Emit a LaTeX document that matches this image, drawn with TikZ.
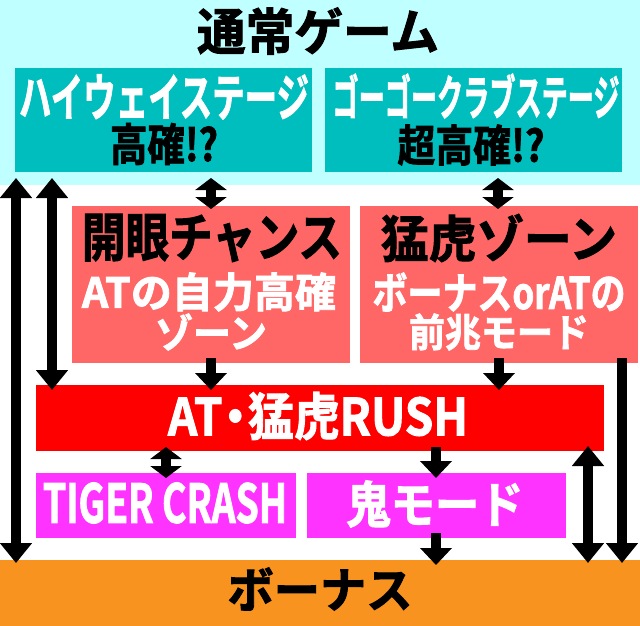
\documentclass[tikz,border=0pt]{standalone}
\usepackage{fontspec}
\usepackage{graphicx}
\newfontfamily\jp{Noto Sans CJK JP Bold}[FakeBold=2]
\usetikzlibrary{arrows.meta}
\definecolor{cyanbg}{RGB}{192,255,255}
\definecolor{tealbox}{RGB}{0,190,190}
\definecolor{pinkbox}{RGB}{255,102,102}
\definecolor{redbar}{RGB}{255,0,0}
\definecolor{magbox}{RGB}{255,51,255}
\definecolor{orangebg}{RGB}{247,147,30}
\newcommand\fitto[3]{\resizebox*{#1pt}{#2pt}{\jp #3}}
\begin{document}
\begin{tikzpicture}[x=1pt,y=-1pt,
  panel/.style={inner sep=0pt,outer sep=0pt,draw=none,anchor=north west},
  lbl/.style={inner sep=0pt,outer sep=0pt,anchor=center},
  tipbig/.tip={Triangle[width=31pt,length=20pt]},
  tipsmall/.tip={Triangle[width=31pt,length=12pt]},
  tipmid/.tip={Triangle[width=31pt,length=17pt]},
  dblbig/.style={line width=10pt,{tipbig}-{tipbig}},
  dblsmall/.style={line width=10pt,{tipsmall}-{tipsmall}},
  downarrow/.style={line width=10pt,-{tipmid}},
  longdown/.style={line width=10pt,-{tipbig}}]
\useasboundingbox (0,0) rectangle (640,626);
% panels
\node[panel,fill=cyanbg,minimum width=640pt,minimum height=185pt] (normal) at (0,0) {};
\node[panel,fill=tealbox,minimum width=297pt,minimum height=104pt] (hw) at (15,68) {};
\node[panel,fill=tealbox,minimum width=297pt,minimum height=104pt] (gg) at (325,68) {};
\node[panel,fill=pinkbox,minimum width=278pt,minimum height=157pt] (kaigan) at (72,206) {};
\node[panel,fill=pinkbox,minimum width=278pt,minimum height=157pt] (moko) at (360,206) {};
\node[panel,fill=redbar,minimum width=568pt,minimum height=66pt] (rush) at (36,385) {};
\node[panel,fill=magbox,minimum width=260pt,minimum height=65pt] (tiger) at (36,473) {};
\node[panel,fill=magbox,minimum width=259pt,minimum height=65pt] (oni) at (307,473) {};
\node[panel,fill=orangebg,minimum width=640pt,minimum height=66pt] (bonus) at (0,560) {};
% labels
\node[lbl,text=black] (tNormal) at (318,31) {\fitto{242}{47}{通常ゲーム}};
\node[lbl,text=white] (tHw1) at (164,97) {\fitto{290}{45}{ハイウェイステージ}};
\node[lbl,text=black] (tHw2) at (164,144) {\fitto{108}{42}{高確!?}};
\node[lbl,text=white] (tGg1) at (476,96) {\fitto{287}{45}{ゴーゴークラブステージ}};
\node[lbl,text=black] (tGg2) at (471,145) {\fitto{147}{41}{超高確!?}};
\node[lbl,text=black] (tKa1) at (212,238) {\fitto{260}{48}{開眼チャンス}};
\node[lbl,text=white] (tKa2) at (209,292) {\fitto{254}{39}{ATの自力高確}};
\node[lbl,text=white] (tKa3) at (211,332) {\fitto{112}{37}{ゾーン}};
\node[lbl,text=black] (tMo1) at (499,238) {\fitto{236}{48}{猛虎ゾーン}};
\node[lbl,text=white] (tMo2) at (499,292) {\fitto{253}{39}{ボーナスorATの}};
\node[lbl,text=white] (tMo3) at (499,332) {\fitto{180}{37}{前兆モード}};
\node[lbl,text=white] (tRush) at (318,416) {\fitto{300}{48}{AT\kern-0.22em・\kern-0.22em猛虎RUSH}};
\node[lbl,text=white] (tTiger) at (165,503) {\fitto{244}{41}{TIGER CRASH}};
\node[lbl,text=white] (tOni) at (435,504) {\fitto{177}{47}{鬼モード}};
\node[lbl,text=black] (tBonus) at (320,589) {\fitto{185}{43}{ボーナス}};
% arrows
\draw[dblbig,shorten <=-7pt,shorten >=-3pt] (16,0 |- normal.south) -- (16,0 |- bonus.north);
\draw[dblbig,shorten <=-7pt,shorten >=-5pt] (52,0 |- normal.south) -- (52,0 |- rush.north);
\draw[dblsmall,shorten <=6pt,shorten >=-3pt] (211,0 |- hw.south) -- (211,0 |- kaigan.north);
\draw[dblsmall,shorten <=6pt,shorten >=-3pt] (498,0 |- gg.south) -- (498,0 |- moko.north);
\draw[downarrow,shorten <=-5pt,shorten >=-5pt] (211,0 |- kaigan.south) -- (211,0 |- rush.north);
\draw[downarrow,shorten <=-5pt,shorten >=-5pt] (499,0 |- moko.south) -- (499,0 |- rush.north);
\draw[longdown,shorten <=-5pt,shorten >=-3pt] (622,0 |- moko.south) -- (622,0 |- bonus.north);
\draw[dblsmall,shorten <=-4pt,shorten >=-5pt] (166,0 |- rush.south) -- (166,0 |- tiger.north);
\draw[downarrow,shorten <=-4pt,shorten >=-5pt] (436,0 |- rush.south) -- (436,0 |- oni.north);
\draw[downarrow,shorten <=-5pt,shorten >=-5pt] (436,0 |- oni.south) -- (436,0 |- bonus.north);
\draw[dblbig,shorten <=-5pt,shorten >=-3pt] (588,0 |- rush.south) -- (588,0 |- bonus.north);
\end{tikzpicture}
\end{document}
